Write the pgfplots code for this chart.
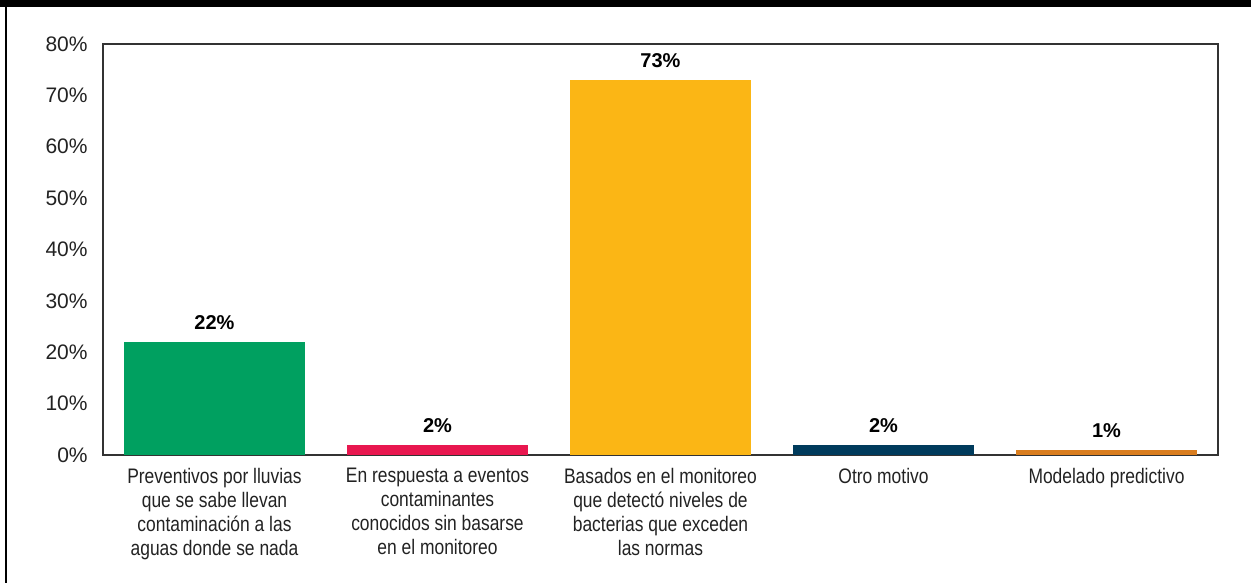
\documentclass[border=0pt]{standalone}
\usepackage{fontspec}
\setmainfont{Liberation Sans}
\newfontfamily\condfont[FakeStretch=0.83]{Liberation Sans}
\usepackage{pgfplots}
\pgfplotsset{compat=1.18}
\definecolor{cgreen}{RGB}{0,160,96}
\definecolor{cpink}{RGB}{232,23,79}
\definecolor{cyellow}{RGB}{251,182,21}
\definecolor{cnavy}{RGB}{0,59,92}
\definecolor{corange}{RGB}{217,125,31}
\definecolor{ctext}{RGB}{34,34,34}
\begin{document}
\begin{tikzpicture}
\path[use as bounding box] (0,0) rectangle (625.5bp,291.5bp);
\fill[black] (0,288bp) rectangle (625.5bp,291.5bp);
\draw[black,line width=1bp] (3bp,0) -- (3bp,291.5bp);
\begin{axis}[
  at={(51.5bp,64bp)}, anchor=south west,
  scale only axis, width=557.5bp, height=205.5bp,
  xmin=-0.5, xmax=4.5, ymin=0, ymax=80,
  ytick={0,10,...,80},
  yticklabel={\pgfmathprintnumber{\tick}\%},
  /pgf/number format/assume math mode=true,
  xtick={0,1,2,3,4},
  xticklabels={{Preventivos por lluvias\\que se sabe llevan\\contaminación a las\\aguas donde se nada},
    {En respuesta a eventos\\contaminantes\\conocidos sin basarse\\en el monitoreo},
    {Basados en el monitoreo\\que detectó niveles de\\bacterias que exceden\\las normas},
    {Otro motivo},
    {Modelado predictivo}},
  major tick length=0pt,
  axis line style={draw=black!80, line width=0.7bp},
  yticklabel style={font=\fontsize{10.5bp}{12bp}\selectfont, text=ctext, inner sep=0pt, xshift=-7.5bp},
  xticklabel style={font=\condfont\fontsize{10.5bp}{12bp}\selectfont, text=ctext, align=center, inner sep=0pt, yshift=-6.5bp},
  ybar, bar width=90.5bp, bar shift=0pt,
  nodes near coords={\pgfmathprintnumber{\pgfplotspointmeta}\%},
  nodes near coords style={font=\bfseries\fontsize{10bp}{12bp}\selectfont, text=black, inner sep=0pt, yshift=6bp, anchor=south},
]
\addplot[fill=cgreen, draw=none] coordinates {(0,22)};
\addplot[fill=cpink, draw=none] coordinates {(1,2)};
\addplot[fill=cyellow, draw=none] coordinates {(2,73)};
\addplot[fill=cnavy, draw=none] coordinates {(3,2)};
\addplot[fill=corange, draw=none] coordinates {(4,1)};
\end{axis}
\end{tikzpicture}
\end{document}
